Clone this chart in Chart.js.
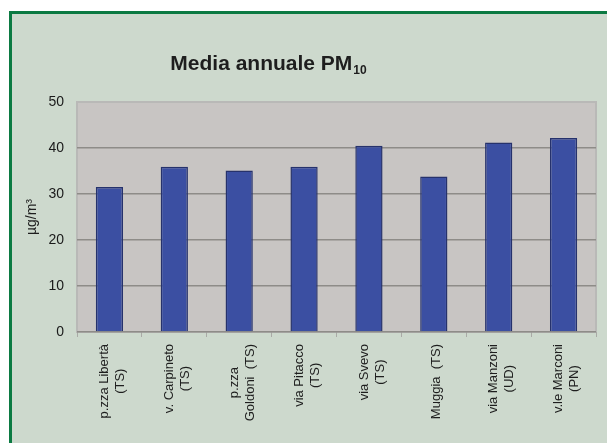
<!DOCTYPE html>
<html>
<head>
<meta charset="utf-8">
<script src="https://cdn.jsdelivr.net/npm/chart.js@4.4.1/dist/chart.umd.min.js"></script>
<style>
  html, body { margin: 0; padding: 0; background: #ffffff; }
  #frame {
    position: absolute; left: 9px; top: 11px; width: 598px; height: 432px;
    background: #cdd9cd;
    border-top: 3px solid #0b7a42; border-left: 3px solid #0b7a42;
    box-sizing: border-box;
  }
  #myChart { position: absolute; left: 0; top: 0; }
</style>
</head>
<body>
<div id="frame"></div>
<canvas id="myChart" width="607" height="443"></canvas>
<script>
let stations = [
    ['p.zza Libertà', '(TS)'],
    ['v. Carpineto', '(TS)'],
    ['p.zza', 'Goldoni  (TS)'],
    ['via Pitacco', '(TS)'],
    ['via Svevo', '(TS)'],
    ['Muggia  (TS)'],
    ['via Manzoni', '(UD)'],
    ['v.le Marconi', '(PN)']
];
let pm10 = [31.5, 35.9, 35.1, 35.9, 40.5, 33.8, 41.2, 42.2];
let yTicks = [0, 10, 20, 30, 40, 50];

let titleText = 'Media annuale PM';
let titleSub = '10';

let labelFont = '13px "Liberation Sans", Arial, sans-serif';

// grey plot area, heading with subscript, and the station names
// (drawn here so every line of a name is centred on the longest one)
let decorations = {
    id: 'decorations',
    beforeDraw: function (chart) {
        let ctx = chart.ctx;
        let a = chart.chartArea;
        ctx.save();
        ctx.fillStyle = '#c8c5c3';
        ctx.fillRect(a.left, a.top, a.right - a.left, a.bottom - a.top);
        ctx.strokeStyle = '#b9b9b7';
        ctx.lineWidth = 2;
        ctx.strokeRect(a.left, a.top, a.right - a.left, a.bottom - a.top);
        ctx.restore();
    },
    afterDraw: function (chart) {
        let ctx = chart.ctx;
        ctx.save();
        ctx.fillStyle = '#1e1e1e';
        ctx.textBaseline = 'alphabetic';
        ctx.font = 'bold 21px "Liberation Sans", Arial, sans-serif';
        let w1 = ctx.measureText(titleText).width;
        ctx.font = 'bold 12px "Liberation Sans", Arial, sans-serif';
        let w2 = ctx.measureText(titleSub).width;
        let x = 268 - (w1 + w2) / 2;
        ctx.font = 'bold 21px "Liberation Sans", Arial, sans-serif';
        ctx.fillText(titleText, x, 70);
        ctx.font = 'bold 12px "Liberation Sans", Arial, sans-serif';
        ctx.fillText(titleSub, x + w1 + 1, 74);
        ctx.restore();

        let xs = chart.scales.x;
        let top = chart.chartArea.bottom + 12;
        let lh = 16;
        ctx.save();
        ctx.font = labelFont;
        ctx.fillStyle = '#1e1e1e';
        ctx.textAlign = 'center';
        ctx.textBaseline = 'middle';
        stations.forEach((lines, i) => {
            let px = xs.getPixelForTick(i) + 3;
            let widest = Math.max(...lines.map(l => ctx.measureText(l).width));
            let cy = top + widest / 2;
            lines.forEach((line, j) => {
                let lx = px + (j - (lines.length - 1) / 2) * lh;
                ctx.save();
                ctx.translate(lx, cy);
                ctx.rotate(-Math.PI / 2);
                ctx.fillText(line, 0, 0);
                ctx.restore();
            });
        });
        ctx.restore();
    }
};

let ctx = document.getElementById('myChart').getContext('2d');

let myBarChart = new Chart(ctx, {
    type: 'bar',
    data: {
        labels: stations,
        datasets: [{
            data: pm10,
            backgroundColor: '#3b4fa2',
            borderColor: '#26326c',
            borderWidth: 1.5,
            barPercentage: 0.42,
            categoryPercentage: 1
        }]
    },
    options: {
        responsive: false,
        animation: false,
        layout: { padding: { top: 102, right: 11, left: 0, bottom: 0 } },
        plugins: {
            legend: { display: false },
            tooltip: { enabled: false }
        },
        scales: {
            x: {
                afterFit: function (scale) { scale.height = 111; },
                border: { display: false },
                grid: { drawOnChartArea: false, color: '#a9aaa6', tickLength: 5, offset: true },
                ticks: { display: false }
            },
            y: {
                min: 0,
                max: 50,
                afterFit: function (scale) { scale.width = 77; },
                afterBuildTicks: function (scale) {
                    scale.ticks = yTicks.map(v => ({ value: v }));
                },
                border: { display: false },
                grid: {
                    drawTicks: false,
                    color: function (c) { return c.tick.value === 50 ? 'rgba(0,0,0,0)' : '#8e8c88'; },
                    lineWidth: 1.5
                },
                ticks: {
                    padding: 13,
                    color: '#1a1a1a',
                    font: { family: '"Liberation Sans", Arial', size: 14 }
                },
                title: {
                    display: true,
                    text: 'µg/m³',
                    color: '#1e1e1e',
                    padding: { top: 24, bottom: 0 },
                    font: { family: '"Liberation Sans", Arial', size: 14 }
                }
            }
        }
    },
    plugins: [decorations]
});
</script>
</body>
</html>
